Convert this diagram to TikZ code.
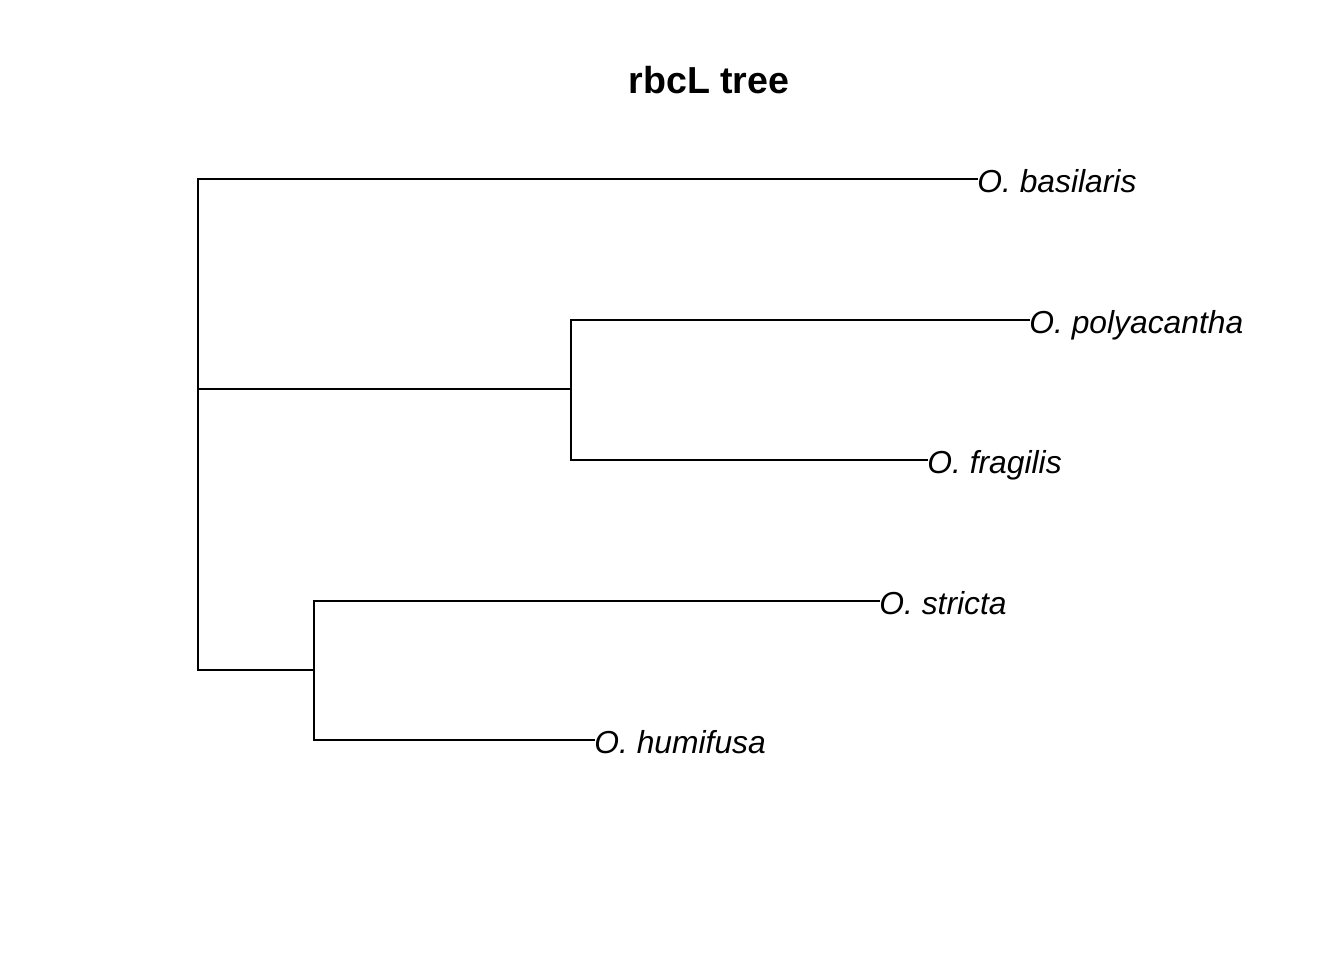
\documentclass[tikz,border=0pt]{standalone}
\usepackage{fontspec}
\setmainfont{Liberation Sans}
\usetikzlibrary{calc}

\begin{document}
\begin{tikzpicture}
  [
    x=0.5pt, y=-0.5pt,
    taxon/.style =
      {anchor=base west, inner sep=0pt, yshift=-6.9pt,
       font=\fontsize{15.9}{18}\selectfont\itshape},
    branch/.style =
      {line width=1pt, line cap=rect},
    heading/.style =
      {anchor=base, inner sep=0pt, font=\fontsize{18.8}{22}\selectfont\bfseries}
  ]

\useasboundingbox (0,0) rectangle (1344,960);

\node[heading] (title) at (709,93) {rbcL tree};

% internal nodes
\coordinate (root) at (198,424);
\coordinate (pf) at (571,389);
\coordinate (sh) at (314,670);

% tips
\node[taxon] (basilaris) at (977,179) {O. basilaris};
\node[taxon] (polyacantha) at (1029,320) {O. polyacantha};
\node[taxon] (fragilis) at (927,460) {O. fragilis};
\node[taxon] (stricta) at (879,601) {O. stricta};
\node[taxon] (humifusa) at (594,740) {O. humifusa};

\coordinate (basilaris-tip) at (977,179);
\coordinate (polyacantha-tip) at (1029,320);
\coordinate (fragilis-tip) at (927,460);
\coordinate (stricta-tip) at (879,601);
\coordinate (humifusa-tip) at (594,740);

% branches
\draw[branch] (basilaris-tip) -| (root |- sh) -- (sh);
\draw[branch] (root |- pf) -- (pf);
\draw[branch] (polyacantha-tip) -| (pf) |- (fragilis-tip);
\draw[branch] (stricta-tip) -| (sh) |- (humifusa-tip);

\end{tikzpicture}
\end{document}
